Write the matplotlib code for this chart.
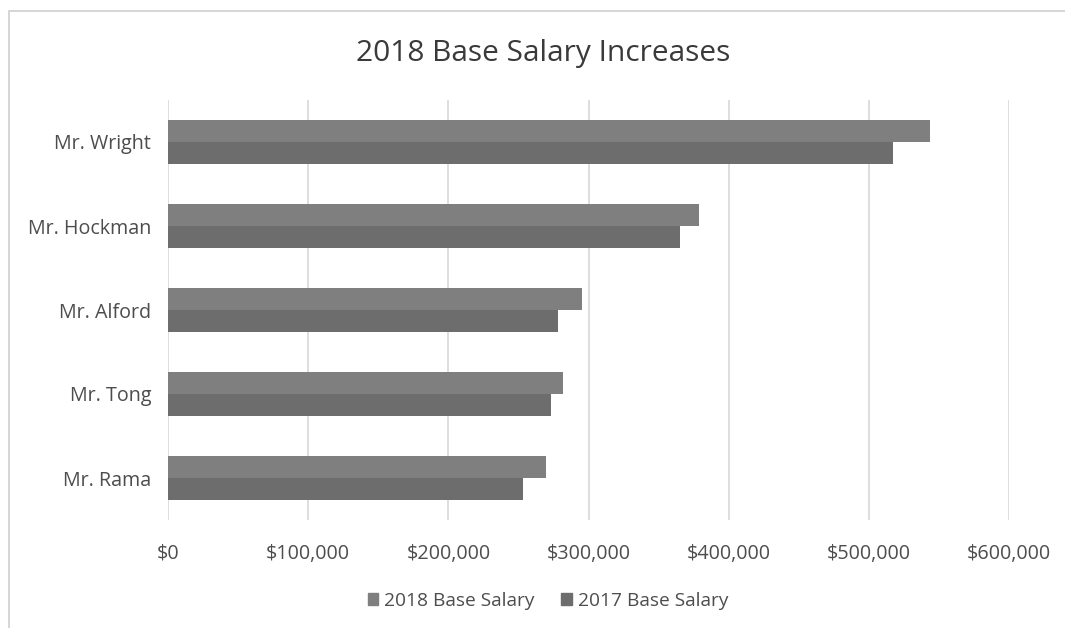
import matplotlib
matplotlib.use("Agg")
import matplotlib.pyplot as plt
import matplotlib.ticker as mticker
from matplotlib.patches import Rectangle, Patch
import numpy as np

# data (bottom to top)
names = ["Mr. Rama", "Mr. Tong", "Mr. Alford", "Mr. Hockman", "Mr. Wright"]
salary_2018 = [270000, 282000, 295500, 378500, 543500]
salary_2017 = [253000, 273000, 278500, 365000, 517000]
series_labels = ["2018 Base Salary", "2017 Base Salary"]
x_ticks = [0, 100000, 200000, 300000, 400000, 500000, 600000]

plt.rcParams['font.family'] = ['Open Sans', 'DejaVu Sans']

col_2018 = "#7f7f7f"
col_2017 = "#6d6d6d"
txt = "#4d4d4d"

fig = plt.figure(figsize=(10.65, 6.28), dpi=100)
ax = fig.add_axes([168 / 1065, 1 - 520 / 628, (1009 - 168) / 1065, 420 / 628])

y = np.arange(len(names))
h = 0.256
ax.barh(y + h / 2, salary_2018, height=h, color=col_2018, label=series_labels[0], zorder=3)
ax.barh(y - h / 2, salary_2017, height=h, color=col_2017, label=series_labels[1], zorder=3)

ax.set_xlim(0, 600000)
ax.set_ylim(-0.5, len(names) - 0.5)
ax.set_xticks(x_ticks)
ax.xaxis.set_major_formatter(mticker.FuncFormatter(lambda v, p: "${:,.0f}".format(v)))
ax.set_yticks(y)
ax.set_yticklabels(names)
ax.tick_params(axis='both', length=0, labelsize=14.2, colors=txt)
ax.tick_params(axis='x', pad=17)
ax.tick_params(axis='y', pad=12)
ax.grid(axis='x', color="#d4d4d4", linewidth=1.1, zorder=0)
for s in ax.spines.values():
    s.set_visible(False)

fig.text(543 / 1065, 1 - 54 / 628, "2018 Base Salary Increases", ha='center', va='center',
         fontsize=21.5, color="#3a3a3a")

handles = [Patch(color=col_2018), Patch(color=col_2017)]
fig.legend(handles, series_labels, loc='center', bbox_to_anchor=(548 / 1065, 1 - 601 / 628),
           ncol=2, frameon=False, fontsize=13.8, labelcolor=txt, handlelength=0.55,
           handleheight=0.55, handletextpad=0.3, columnspacing=1.4)

# chart frame
fig.patches.append(Rectangle((9 / 1065, -0.05), 1.1, 1 - 11 / 628 + 0.05, transform=fig.transFigure,
                             fill=False, edgecolor="#d0d0d0", linewidth=1.2))

fig.savefig("out.png", dpi=100)
